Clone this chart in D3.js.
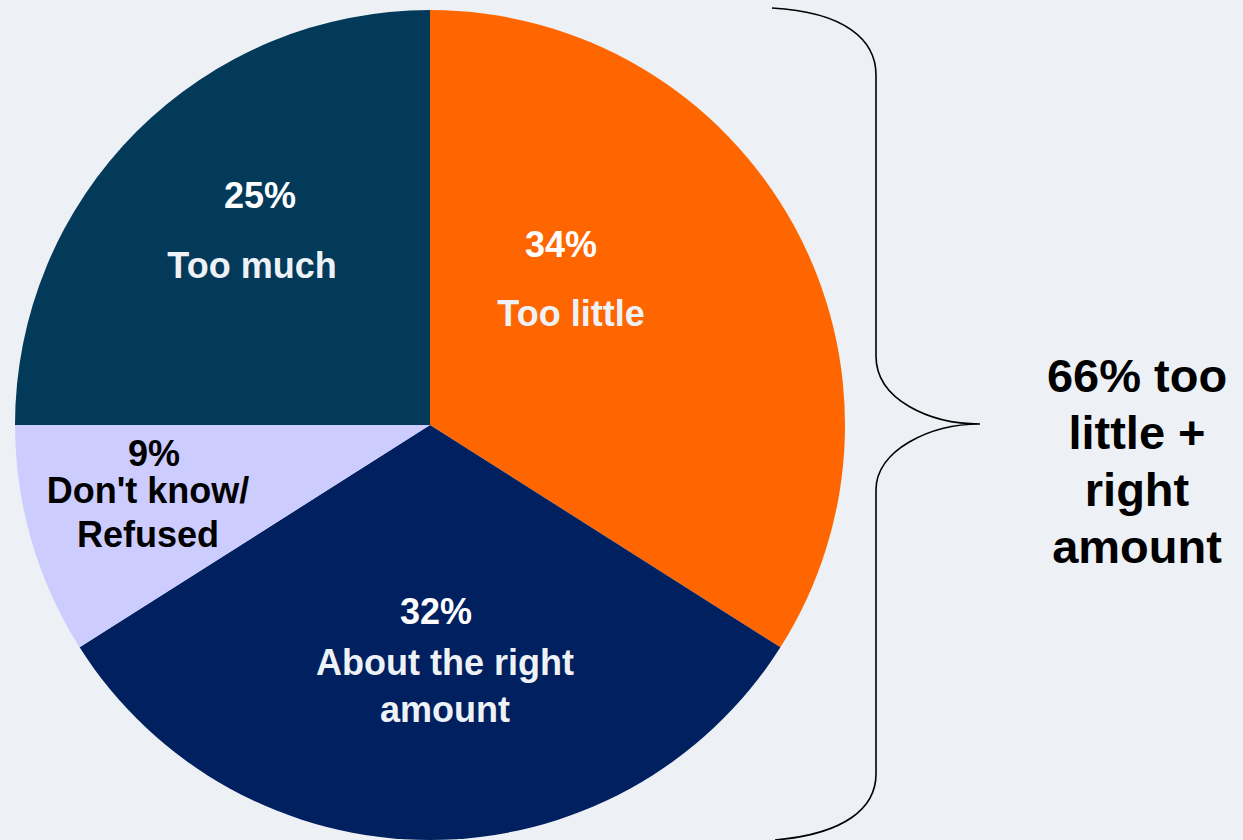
<!DOCTYPE html>
<html>
<head>
<meta charset="utf-8">
<script src="https://cdn.jsdelivr.net/npm/d3@7"></script>
<style>
  html, body { margin: 0; padding: 0; background: #edf1f5; }
  svg { display: block; font-family: "Liberation Sans", Arial, sans-serif; font-weight: bold; }
</style>
</head>
<body>
<div id="chart"></div>
<script>
// 資料
const categories = ["Too little", "About the right amount", "Don't know/Refused", "Too much"];
const values = [34, 32, 9, 25];
const labelLines = [["34%", "Too little"], ["32%", "About the right", "amount"], ["9%", "Don't know/", "Refused"], ["25%", "Too much"]];
const colors = ["#ff6600", "#002060", "#ccccff", "#033a5a"];
const textColors = ["#eef2f6", "#eef2f6", "#000000", "#eef2f6"];
const summaryLines = ["66% too", "little +", "right", "amount"];

const width = 1243, height = 840;
const cx = 430, cy = 425, radius = 415;

const svg = d3.select("#chart").append("svg")
    .attr("width", width)
    .attr("height", height);

svg.append("rect").attr("width", width).attr("height", height).attr("fill", "#edf1f5");

const pie = d3.pie().sort(null).value(d => d);
const arcs = pie(values);
const arc = d3.arc().innerRadius(0).outerRadius(radius);

const g = svg.append("g").attr("transform", `translate(${cx},${cy})`);

g.selectAll("path")
    .data(arcs)
    .enter()
    .append("path")
    .attr("d", arc)
    .attr("fill", (d, i) => colors[i]);

// 標籤位置 (相對圓心), 每行 x 與 baseline
const labelLayout = [
    {xs: [131, 141], ys: [-168, -99]},
    {xs: [6, 15, 15], ys: [199, 250, 297]},
    {xs: [-276, -282, -282], ys: [41, 78, 122]},
    {xs: [-170, -178], ys: [-217, -147]}
];

arcs.forEach((a, i) => {
    const lay = labelLayout[i];
    labelLines[i].forEach((line, j) => {
        g.append("text")
            .attr("x", lay.xs[j])
            .attr("y", lay.ys[j])
            .attr("text-anchor", "middle")
            .attr("font-size", 36)
            .attr("fill", j === 0 && i !== 2 ? "#ffffff" : textColors[i])
            .text(line);
    });
});

// 大括號
svg.append("path")
    .attr("d", "M772,8 C845,12 876,40 876,75 L876,356 C876,400 930,424 980,424 C930,424 876,450 876,490 L876,774 C876,808 845,834 775,840")
    .attr("fill", "none")
    .attr("stroke", "#000")
    .attr("stroke-width", 1.6);

// 右側說明
summaryLines.forEach((line, i) => {
    svg.append("text")
        .attr("x", 1137)
        .attr("y", 392 + i * 57)
        .attr("text-anchor", "middle")
        .attr("font-size", 47)
        .attr("fill", "#000")
        .text(line);
});
</script>
</body>
</html>
